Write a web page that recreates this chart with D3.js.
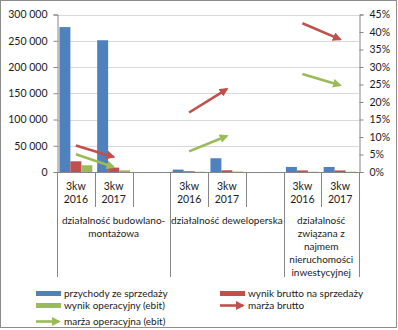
<!DOCTYPE html>
<html><head><meta charset="utf-8">
<script src="https://cdn.jsdelivr.net/npm/d3@7"></script>
<style>
html,body{margin:0;padding:0;background:#fff;}
svg{display:block;font-family:Lato,"Liberation Sans",Arial,sans-serif;}
</style></head>
<body><svg id="chart" width="398" height="330"></svg>
<script>
// ---- data ----
const groups = ["działalność budowlano-montażowa", "działalność deweloperska", "działalność związana z najmem nieruchomości inwestycyjnej"];
const groupLines = [["działalność budowlano-", "montażowa"], ["działalność deweloperska"], ["działalność", "związana z", "najmem", "nieruchomości", "inwestycyjnej"]];
const slots = ["g1-2016", "g1-2017", "g1-gap", "g2-2016", "g2-2017", "g2-gap", "g3-2016", "g3-2017"];
const slotLabels = [["3kw", "2016"], ["3kw", "2017"], [], ["3kw", "2016"], ["3kw", "2017"], [], ["3kw", "2016"], ["3kw", "2017"]];
const groupSlots = [[0, 3], [3, 6], [6, 8]];
const przychody = [276000, 251000, null, 4600, 26200, null, 9600, 9600];
const wynikBrutto = [20400, 8400, null, 1500, 3300, null, 3000, 3000];
const ebit = [12800, 3200, null, 500, 800, null, 500, 500];
const marzaBrutto = [7.6, 4.3, null, 17.0, 23.7, null, 42.5, 37.9];
const marzaOper = [5.1, 1.4, null, 5.9, 10.3, null, 28.0, 24.8];
const leftTicks = [0, 50000, 100000, 150000, 200000, 250000, 300000];
const rightTicks = [0, 5, 10, 15, 20, 25, 30, 35, 40, 45];

const barSeries = [
  {name: "przychody ze sprzedaży", values: przychody, color: "#4F81BD"},
  {name: "wynik brutto na sprzedaży", values: wynikBrutto, color: "#C0504D"},
  {name: "wynik operacyjny (ebit)", values: ebit, color: "#9BBB59"}
];
const lineSeries = [
  {name: "marża brutto", values: marzaBrutto, color: "#C0504D"},
  {name: "marża operacyjna (ebit)", values: marzaOper, color: "#9BBB59"}
];

const FONT = "Lato, 'Liberation Sans', Arial, sans-serif";
const FS = 10.5, FS2 = 10;
const svg = d3.select("#chart");
const L = 57, R = 359, T = 14.5, B = 172;
const textColor = "#1a1a1a";
const axisColor = "#868686";

// border
svg.append("rect").attr("x", 0.5).attr("y", 0.5).attr("width", 396).attr("height", 327)
  .attr("fill", "#fff").attr("stroke", "#8c8c8c");

const x = d3.scaleBand().domain(slots).range([L, R]).padding(0);
const xi = d3.scaleBand().domain(barSeries.map(s => s.name)).range([0, x.bandwidth()]).paddingInner(0).paddingOuter(0.22);
const y = d3.scaleLinear().domain([0, 300000]).range([B, T]);
const y2 = d3.scaleLinear().domain([0, 45]).range([B, T]);

// gridlines
svg.append("g").selectAll("line").data(leftTicks.filter(d => d > 0)).join("line")
  .attr("x1", L).attr("x2", R).attr("y1", d => Math.round(y(d)) + 0.5).attr("y2", d => Math.round(y(d)) + 0.5)
  .attr("stroke", "#d9d9d9");

// left axis
const fmt = v => d3.format(",")(v).replace(/,/g, " ");
const ga = svg.append("g").attr("transform", `translate(${L + 0.5},0)`)
  .call(d3.axisLeft(y).tickValues(leftTicks).tickFormat(fmt).tickSize(4).tickPadding(6));
ga.select(".domain").attr("stroke", axisColor);
ga.selectAll(".tick line").attr("stroke", axisColor);
ga.selectAll("text").attr("fill", textColor).attr("font-size", FS).attr("font-family", FONT);

// right axis
const gr = svg.append("g").attr("transform", `translate(${R + 0.5},0)`)
  .call(d3.axisRight(y2).tickValues(rightTicks).tickFormat(d => d + "%").tickSize(4).tickPadding(6));
gr.select(".domain").attr("stroke", axisColor);
gr.selectAll(".tick line").attr("stroke", axisColor);
gr.selectAll("text").attr("fill", textColor).attr("font-size", FS).attr("font-family", FONT);

// bars
barSeries.forEach(s => {
  svg.append("g").selectAll("rect").data(s.values.map((v, i) => ({v, i})).filter(d => d.v != null)).join("rect")
    .attr("x", d => x(slots[d.i]) + xi(s.name))
    .attr("width", xi.bandwidth())
    .attr("y", d => y(d.v))
    .attr("height", d => B - y(d.v))
    .attr("fill", s.color);
});

// category axis baseline
svg.append("line").attr("x1", L).attr("x2", R).attr("y1", B + 0.5).attr("y2", B + 0.5).attr("stroke", axisColor);

// category tick lines
const boundaries = d3.range(slots.length + 1);
const groupBounds = new Set([0, 3, 6, 8]);
svg.append("g").selectAll("line").data(boundaries).join("line")
  .attr("x1", i => Math.round(L + i * x.step()) + 0.5)
  .attr("x2", i => Math.round(L + i * x.step()) + 0.5)
  .attr("y1", B)
  .attr("y2", i => groupBounds.has(i) ? 277 : 207)
  .attr("stroke", axisColor);

// inner labels
slots.forEach((s, i) => {
  slotLabels[i].forEach((t, j) => {
    svg.append("text").attr("x", x(s) + x.bandwidth() / 2).attr("y", 189.5 + j * 13)
      .attr("text-anchor", "middle").attr("font-size", FS).attr("fill", textColor).text(t);
  });
});
// group labels
groupSlots.forEach((g, gi) => {
  const cx = L + (g[0] + g[1]) / 2 * x.step();
  groupLines[gi].forEach((t, j) => {
    svg.append("text").attr("x", cx).attr("y", 224 + j * 13)
      .attr("text-anchor", "middle").attr("font-size", FS2).attr("fill", textColor).text(t);
  });
});

// arrow markers
const defs = svg.append("defs");
lineSeries.forEach((s, k) => {
  defs.append("marker").attr("id", "arr" + k).attr("viewBox", "0 0 10 10")
    .attr("refX", 8).attr("refY", 5).attr("markerWidth", 3.4).attr("markerHeight", 3.4)
    .attr("markerUnits", "strokeWidth").attr("orient", "auto")
    .append("path").attr("d", "M0,0 L10,5 L0,10 Z").attr("fill", s.color);
});

// lines (segments per group)
const line = d3.line().defined(d => d.v != null).x(d => x(slots[d.i]) + x.bandwidth() / 2).y(d => y2(d.v));
lineSeries.forEach((s, k) => {
  groupSlots.forEach(g => {
    const pts = s.values.map((v, i) => ({v, i})).filter(d => d.i >= g[0] && d.i < g[1] && d.v != null);
    if (pts.length < 2) return;
    svg.append("path").datum(pts).attr("d", line)
      .attr("fill", "none").attr("stroke", s.color).attr("stroke-width", 2.6)
      .attr("marker-end", `url(#arr${k})`);
  });
});

// legend
const legendItems = [
  {s: barSeries[0], type: "bar", x: 36, y: 293.5},
  {s: barSeries[1], type: "bar", x: 220, y: 293.5},
  {s: barSeries[2], type: "bar", x: 36, y: 305.5},
  {s: lineSeries[0], type: "line", k: 0, x: 220, y: 305.5},
  {s: lineSeries[1], type: "line", k: 1, x: 36, y: 321.5}
];
legendItems.forEach(it => {
  if (it.type === "bar") {
    svg.append("rect").attr("x", it.x).attr("y", it.y - 2.5).attr("width", 25).attr("height", 5).attr("fill", it.s.color);
  } else {
    svg.append("line").attr("x1", it.x).attr("x2", it.x + 23).attr("y1", it.y).attr("y2", it.y)
      .attr("stroke", it.s.color).attr("stroke-width", 2.6).attr("marker-end", `url(#arr${it.k})`);
  }
  svg.append("text").attr("x", it.x + 28).attr("y", it.y + 3.6).attr("font-size", FS2).attr("fill", textColor).text(it.s.name);
});
</script>
</body></html>
